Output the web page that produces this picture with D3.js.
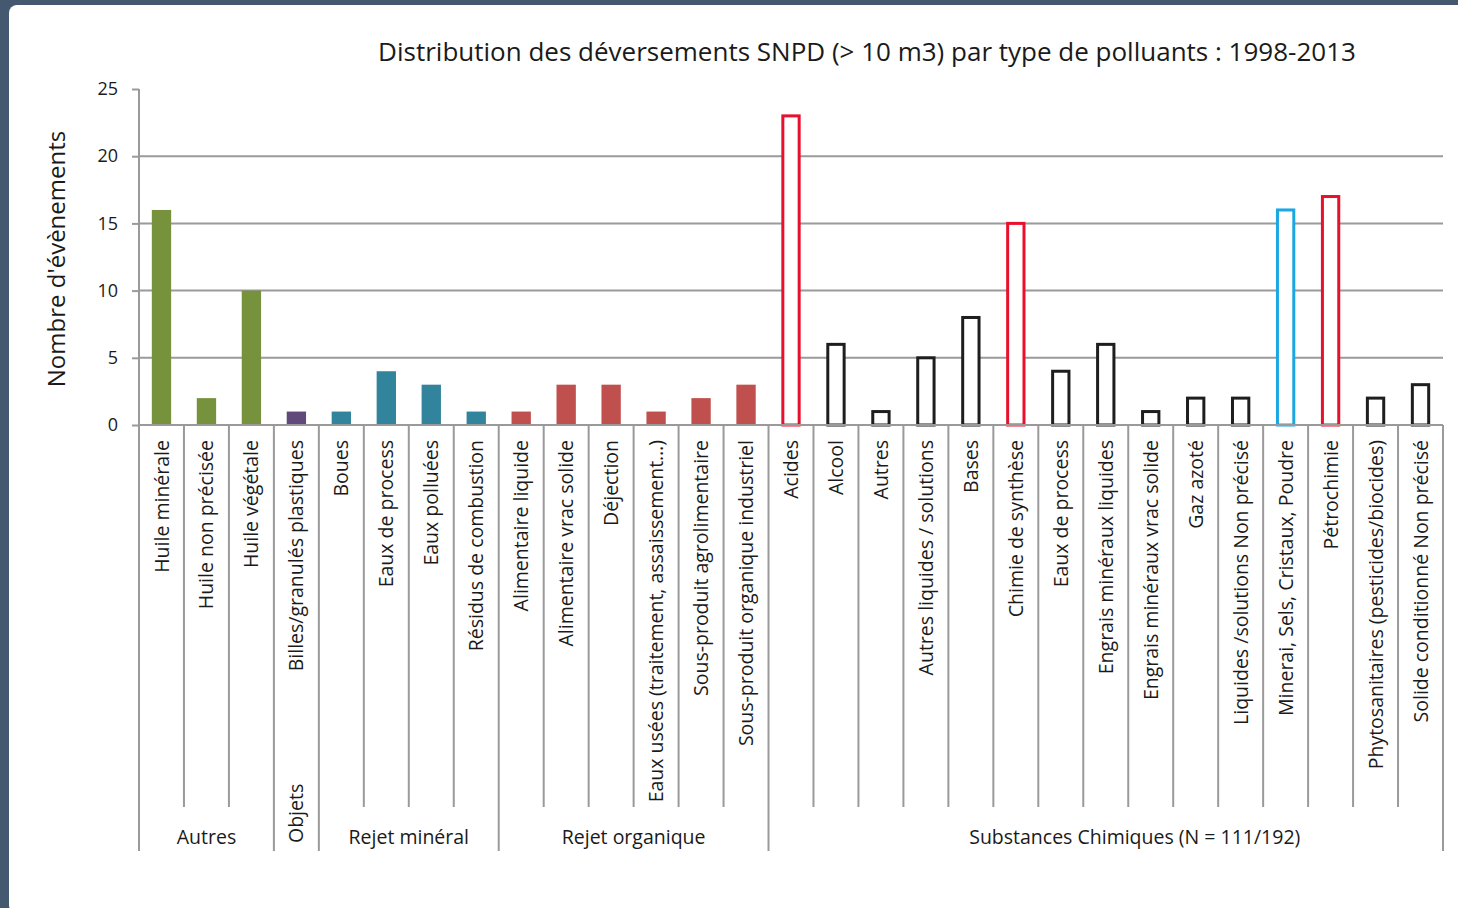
<!DOCTYPE html>
<html lang="fr">
<head>
  <meta charset="UTF-8">
  <title>Déversements SNPD</title>
  <script src="https://d3js.org/d3.v7.min.js" charset="utf-8"></script>
  <style>
    body { margin: 0; background: #44596f; }
    text { font-family: "Open Sans", sans-serif; fill: #1a1a1a; }
  </style>
</head>
<body>
  <div id="wrapper"></div>
  <script>
    // données
    const groups = ['Autres', 'Objets', 'Rejet minéral', 'Rejet organique', 'Substances Chimiques (N = 111/192)']
    const categories = [
      'Huile minérale', 'Huile non précisée', 'Huile végétale',
      'Billes/granulés plastiques',
      'Boues', 'Eaux de process', 'Eaux polluées', 'Résidus de combustion',
      'Alimentaire liquide', 'Alimentaire vrac solide', 'Déjection', 'Eaux usées (traitement, assaissement…)',
      'Sous-produit agrolimentaire', 'Sous-produit organique industriel',
      'Acides', 'Alcool', 'Autres', 'Autres liquides / solutions', 'Bases', 'Chimie de synthèse',
      'Eaux de process', 'Engrais minéraux liquides', 'Engrais minéraux vrac solide', 'Gaz azoté',
      'Liquides /solutions Non précisé', 'Minerai, Sels, Cristaux, Poudre', 'Pétrochimie',
      'Phytosanitaires (pesticides/biocides)', 'Solide conditionné Non précisé'
    ]
    const groupOf = [0, 0, 0, 1, 2, 2, 2, 2, 3, 3, 3, 3, 3, 3, 4, 4, 4, 4, 4, 4, 4, 4, 4, 4, 4, 4, 4, 4, 4]
    const values = [16, 2, 10, 1, 1, 4, 3, 1, 1, 3, 3, 1, 2, 3, 23, 6, 1, 5, 8, 15, 4, 6, 1, 2, 2, 16, 17, 2, 3]
    const yTicks = [0, 5, 10, 15, 20, 25]

    // styles
    const groupFill = ['#77923c', '#604a7b', '#31849b', '#c0504d', 'white']
    const outlineColor = { 14: '#e8112d', 19: '#e8112d', 25: '#1ba7e1', 26: '#e8112d' }

    const dimensions = {
      width: 1458,
      height: 908,
      margin: { top: 89, right: 15, bottom: 483, left: 139 },
    }
    dimensions.boundedWidth = dimensions.width - dimensions.margin.left - dimensions.margin.right
    dimensions.boundedHeight = dimensions.height - dimensions.margin.top - dimensions.margin.bottom

    const svg = d3.select('#wrapper')
      .append('svg')
        .attr('width', dimensions.width)
        .attr('height', dimensions.height)
        .style('display', 'block')

    svg.append('rect')
      .attr('width', dimensions.width)
      .attr('height', dimensions.height)
      .attr('fill', '#44596f')
    svg.append('rect')
      .attr('x', 9).attr('y', 5)
      .attr('width', dimensions.width)
      .attr('height', dimensions.height)
      .attr('rx', 8)
      .attr('fill', 'white')

    const bounds = svg.append('g')
      .attr('transform', `translate(${dimensions.margin.left}, ${dimensions.margin.top})`)

    const xScale = d3.scaleBand()
      .domain(d3.range(categories.length))
      .range([0, dimensions.boundedWidth])

    const yScale = d3.scaleLinear()
      .domain([0, 25])
      .range([dimensions.boundedHeight, 0])

    const lineColor = '#9a9a9a'
    const innerDrop = 382
    const groupDrop = 426

    // grille
    bounds.append('g')
      .selectAll('line')
      .data(yTicks.filter(d => d > 0 && d < 25))
      .join('line')
        .attr('x1', 0)
        .attr('x2', dimensions.boundedWidth)
        .attr('y1', d => yScale(d))
        .attr('y2', d => yScale(d))
        .attr('stroke', lineColor)
        .attr('stroke-width', 2)

    // barres
    const barWidth = xScale.bandwidth() * 0.43
    bounds.append('g')
      .selectAll('rect')
      .data(values)
      .join('rect')
        .attr('x', (d, i) => xScale(i) + (xScale.bandwidth() - barWidth) / 2 + (groupOf[i] === 4 ? 1.5 : 0))
        .attr('width', (d, i) => groupOf[i] === 4 ? barWidth - 3 : barWidth)
        .attr('y', d => yScale(d))
        .attr('height', d => yScale(0) - yScale(d))
        .attr('fill', (d, i) => groupFill[groupOf[i]])
        .attr('stroke', (d, i) => groupOf[i] === 4 ? (outlineColor[i] || '#1e1e1e') : 'none')
        .attr('stroke-width', 3)

    // axe y
    const yAxisGenerator = d3.axisLeft(yScale)
      .tickValues(yTicks)
      .tickSize(7)
      .tickPadding(14)
    const yAxis = bounds.append('g').call(yAxisGenerator)
    yAxis.select('.domain').remove()
    yAxis.selectAll('line').attr('stroke', lineColor).attr('stroke-width', 2)
    yAxis.selectAll('text')
      .style('font-family', '"Open Sans", sans-serif')
      .style('font-size', '18px')
      .attr('fill', '#1a1a1a')

    // ligne de base
    bounds.append('line')
      .attr('x1', 0).attr('x2', dimensions.boundedWidth)
      .attr('y1', yScale(0)).attr('y2', yScale(0))
      .attr('stroke', lineColor).attr('stroke-width', 2)

    // séparateurs des catégories
    const boundaries = d3.range(categories.length + 1)
    bounds.append('g')
      .selectAll('line')
      .data(boundaries)
      .join('line')
        .attr('x1', i => i === categories.length ? dimensions.boundedWidth : xScale(i))
        .attr('x2', i => i === categories.length ? dimensions.boundedWidth : xScale(i))
        .attr('y1', i => i === 0 ? 0 : yScale(0))
        .attr('y2', i => {
          const isGroupEdge = i === 0 || i === categories.length || groupOf[i] !== groupOf[i - 1]
          return yScale(0) + (isGroupEdge ? groupDrop : innerDrop)
        })
        .attr('stroke', lineColor)
        .attr('stroke-width', 2)

    // étiquettes des catégories
    bounds.append('g')
      .selectAll('text')
      .data(categories)
      .join('text')
        .attr('transform', (d, i) => `translate(${xScale(i) + xScale.bandwidth() / 2}, ${yScale(0) + 15}) rotate(-90)`)
        .attr('text-anchor', 'end')
        .attr('dy', '0.36em')
        .style('font-size', '19.5px')
        .text(d => d)

    // étiquettes des groupes
    const groupSpans = groups.map((g, gi) => {
      const idx = d3.range(categories.length).filter(i => groupOf[i] === gi)
      return { name: g, x0: xScale(idx[0]), x1: xScale(idx[idx.length - 1]) + xScale.bandwidth() }
    })
    bounds.append('g')
      .selectAll('text')
      .data(groupSpans)
      .join('text')
        .attr('transform', (d, gi) => {
          const cx = (d.x0 + d.x1) / 2
          if (gi === 1) return `translate(${cx}, ${yScale(0) + 418}) rotate(-90)`
          return `translate(${cx + (gi === 4 ? 29 : 0)}, ${yScale(0) + 419})`
        })
        .attr('text-anchor', (d, gi) => gi === 1 ? 'start' : 'middle')
        .attr('dy', (d, gi) => gi === 1 ? '0.36em' : '0')
        .style('font-size', '19.5px')
        .text(d => d.name)

    // titre
    svg.append('text')
      .attr('x', 867)
      .attr('y', 61)
      .attr('text-anchor', 'middle')
      .style('font-size', '26px')
      .text('Distribution des déversements SNPD (> 10 m3) par type de polluants : 1998-2013')

    // titre de l'axe y
    svg.append('text')
      .attr('transform', `translate(56, ${dimensions.margin.top + dimensions.boundedHeight / 2 + 2}) rotate(-90)`)
      .attr('text-anchor', 'middle')
      .attr('dy', '0.36em')
      .style('font-size', '24px')
      .text("Nombre d'évènements")
  </script>
</body>
</html>
